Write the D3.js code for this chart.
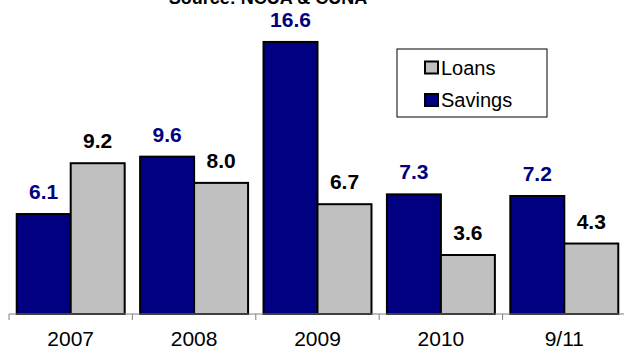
<!DOCTYPE html>
<html>
<head>
  <meta charset="utf-8">
  <title>chart</title>
  <style>
    body { margin: 0; background: #fff; }
    text { font-family: Arial, "Liberation Sans", sans-serif; }
  </style>
</head>
<body>
<script src="https://cdnjs.cloudflare.com/ajax/libs/d3/7.8.5/d3.min.js"></script>
<script>
// Loans vs savings growth, source NCUA & CUNA
const width = 624;
const height = 348;

const categories = ["2007", "2008", "2009", "2010", "9/11"];
const seriesNames = ["Savings", "Loans"];
const savings = [6.1, 9.6, 16.6, 7.3, 7.2];
const loans = [9.2, 8.0, 6.7, 3.6, 4.3];
const legendOrder = ["Loans", "Savings"];

const colors = { Savings: "#000080", Loans: "#c0c0c0" };
const labelColors = { Savings: "#000080", Loans: "#000000" };

const rows = categories.map((c, i) => ({
  cat: c,
  values: [
    { key: "Savings", value: savings[i] },
    { key: "Loans", value: loans[i] }
  ]
}));

const svg = d3.select("body")
  .append("svg")
  .attr("width", width)
  .attr("height", height);

const x0 = d3.scaleBand()
  .domain(categories)
  .range([9, 626])
  .padding(0);

const x1 = d3.scaleBand()
  .domain(seriesNames)
  .range([0, x0.bandwidth()])
  .paddingInner(0)
  .paddingOuter(0.143);

const y = d3.scaleLinear()
  .domain([0, 18])
  .range([314, 19]);

// title (cut off at top, as in the source)
svg.append("text")
  .attr("x", 268)
  .attr("y", 4)
  .attr("text-anchor", "middle")
  .attr("font-size", 18)
  .attr("font-weight", "bold")
  .text("Source: NCUA & CUNA");

// bars
const groups = svg.selectAll("g.grp")
  .data(rows)
  .enter()
  .append("g")
  .attr("class", "grp")
  .attr("transform", d => `translate(${x0(d.cat)},0)`);

groups.selectAll("rect")
  .data(d => d.values)
  .enter()
  .append("rect")
  .attr("x", d => x1(d.key))
  .attr("y", d => y(d.value))
  .attr("width", x1.bandwidth())
  .attr("height", d => y(0) - y(d.value))
  .attr("fill", d => colors[d.key])
  .attr("stroke", "#000")
  .attr("stroke-width", 2);

groups.selectAll("text")
  .data(d => d.values)
  .enter()
  .append("text")
  .attr("x", d => x1(d.key) + x1.bandwidth() / 2)
  .attr("y", d => y(d.value) - 15)
  .attr("text-anchor", "middle")
  .attr("font-size", 21)
  .attr("font-weight", "bold")
  .attr("fill", d => labelColors[d.key])
  .text(d => d.value.toFixed(1));

// x axis
const axis = svg.append("g");
axis.append("line")
  .attr("x1", x0.range()[0])
  .attr("x2", x0.range()[1])
  .attr("y1", y(0))
  .attr("y2", y(0))
  .attr("stroke", "#808080")
  .attr("stroke-width", 1);

axis.selectAll("line.tick")
  .data(categories)
  .enter()
  .append("line")
  .attr("class", "tick")
  .attr("x1", d => x0(d))
  .attr("x2", d => x0(d))
  .attr("y1", y(0))
  .attr("y2", y(0) + 6)
  .attr("stroke", "#808080");

axis.selectAll("text")
  .data(categories)
  .enter()
  .append("text")
  .attr("x", d => x0(d) + x0.bandwidth() / 2)
  .attr("y", 345.5)
  .attr("text-anchor", "middle")
  .attr("font-size", 21)
  .text(d => d);

// legend
const legend = svg.append("g").attr("transform", "translate(397,49)");
legend.append("rect")
  .attr("width", 150)
  .attr("height", 68)
  .attr("fill", "#fff")
  .attr("stroke", "#000")
  .attr("stroke-width", 1);

const items = legend.selectAll("g.item")
  .data(legendOrder)
  .enter()
  .append("g")
  .attr("class", "item")
  .attr("transform", (d, i) => `translate(28,${12.5 + i * 32.5})`);

items.append("rect")
  .attr("width", 13)
  .attr("height", 12)
  .attr("fill", d => colors[d])
  .attr("stroke", "#000")
  .attr("stroke-width", 2);

items.append("text")
  .attr("x", 16)
  .attr("y", 13)
  .attr("font-size", 20)
  .text(d => d);
</script>
</body>
</html>
